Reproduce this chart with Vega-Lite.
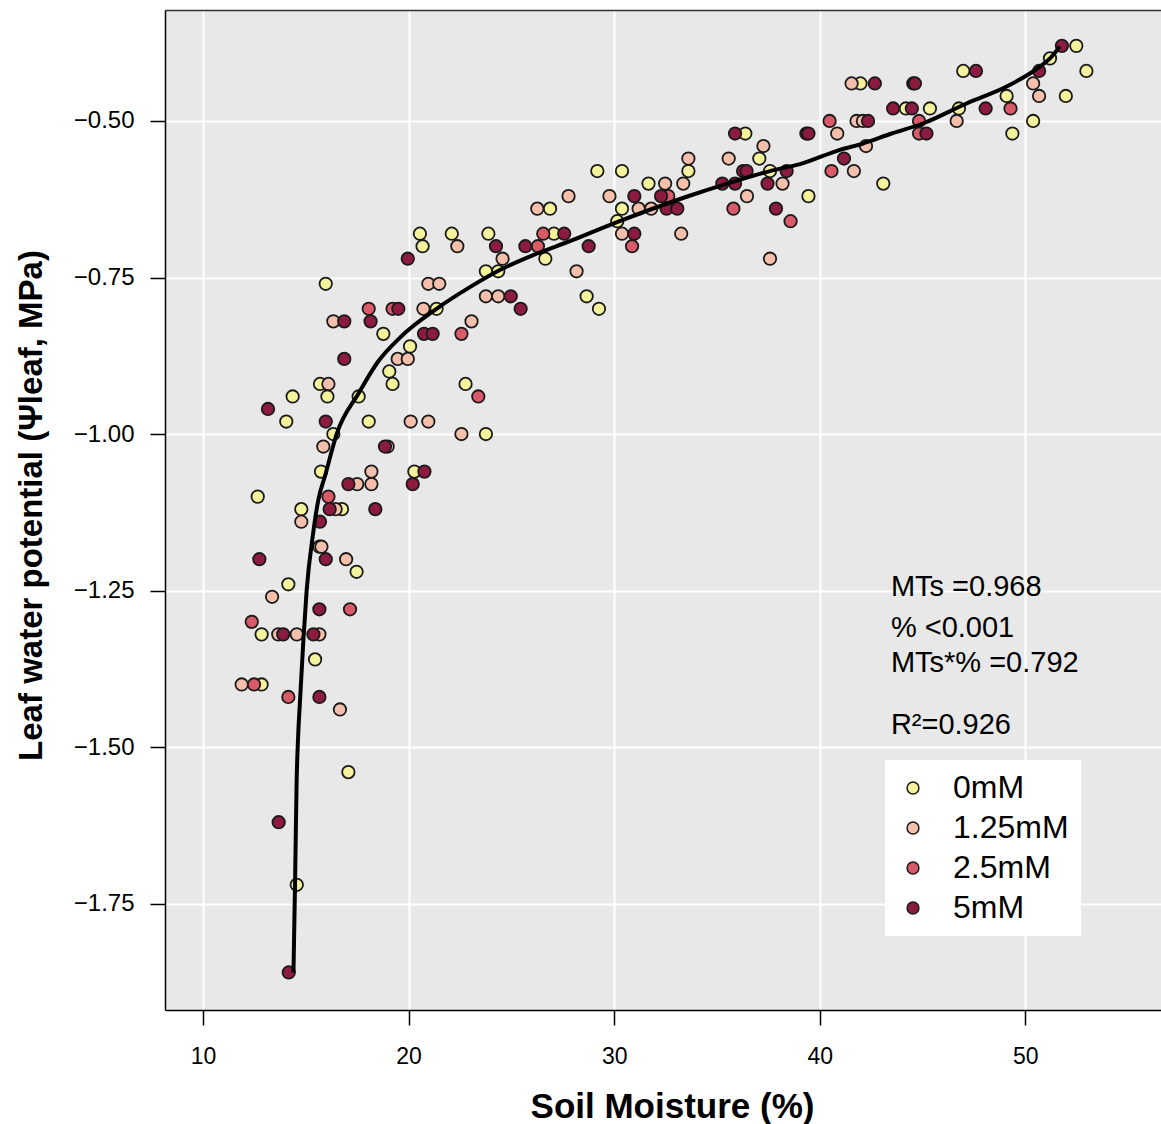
{
  "$schema": "https://vega.github.io/schema/vega-lite/v6.json",
  "width": 996,
  "height": 1000,
  "autosize": {"type": "none"},
  "padding": {"left": 165, "top": 10, "right": 0, "bottom": 114},
  "background": "white",
  "config": {
    "font": "Liberation Sans",
    "view": {"fill": "#E8E8E8", "stroke": null},
    "axis": {
      "gridColor": "white", "gridWidth": 2,
      "domainColor": "black", "domainWidth": 1.5,
      "tickColor": "black", "tickWidth": 1.5, "tickSize": 15,
      "labelColor": "black", "titleColor": "black",
      "labelFont": "Liberation Sans", "titleFont": "Liberation Sans"
    }
  },
  "resolve": {"axis": {"x": "independent"}},
  "datasets": {
    "pts": [
      {"m":52.48,"p":-0.38,"c":"0mM"},{"m":51.2,"p":-0.40,"c":"0mM"},{"m":46.98,"p":-0.42,"c":"0mM"},{"m":52.97,"p":-0.42,"c":"0mM"},{"m":41.98,"p":-0.44,"c":"0mM"},{"m":49.09,"p":-0.46,"c":"0mM"},{"m":51.97,"p":-0.46,"c":"0mM"},{"m":44.19,"p":-0.48,"c":"0mM"},{"m":45.36,"p":-0.48,"c":"0mM"},{"m":46.77,"p":-0.48,"c":"0mM"},{"m":50.38,"p":-0.50,"c":"0mM"},{"m":36.38,"p":-0.52,"c":"0mM"},{"m":49.37,"p":-0.52,"c":"0mM"},{"m":37.06,"p":-0.56,"c":"0mM"},{"m":29.18,"p":-0.58,"c":"0mM"},{"m":30.38,"p":-0.58,"c":"0mM"},{"m":33.61,"p":-0.58,"c":"0mM"},{"m":37.58,"p":-0.58,"c":"0mM"},{"m":31.67,"p":-0.60,"c":"0mM"},{"m":43.09,"p":-0.60,"c":"0mM"},{"m":39.45,"p":-0.62,"c":"0mM"},{"m":26.88,"p":-0.64,"c":"0mM"},{"m":30.38,"p":-0.64,"c":"0mM"},{"m":30.15,"p":-0.66,"c":"0mM"},{"m":20.55,"p":-0.68,"c":"0mM"},{"m":22.1,"p":-0.68,"c":"0mM"},{"m":23.88,"p":-0.68,"c":"0mM"},{"m":27.07,"p":-0.68,"c":"0mM"},{"m":20.68,"p":-0.70,"c":"0mM"},{"m":26.65,"p":-0.72,"c":"0mM"},{"m":23.76,"p":-0.74,"c":"0mM"},{"m":24.36,"p":-0.74,"c":"0mM"},{"m":15.97,"p":-0.76,"c":"0mM"},{"m":28.66,"p":-0.78,"c":"0mM"},{"m":21.36,"p":-0.80,"c":"0mM"},{"m":29.26,"p":-0.80,"c":"0mM"},{"m":18.77,"p":-0.84,"c":"0mM"},{"m":20.07,"p":-0.86,"c":"0mM"},{"m":19.06,"p":-0.90,"c":"0mM"},{"m":15.69,"p":-0.92,"c":"0mM"},{"m":19.22,"p":-0.92,"c":"0mM"},{"m":22.77,"p":-0.92,"c":"0mM"},{"m":14.36,"p":-0.94,"c":"0mM"},{"m":16.05,"p":-0.94,"c":"0mM"},{"m":17.57,"p":-0.94,"c":"0mM"},{"m":14.05,"p":-0.98,"c":"0mM"},{"m":18.06,"p":-0.98,"c":"0mM"},{"m":16.34,"p":-1.00,"c":"0mM"},{"m":23.76,"p":-1.00,"c":"0mM"},{"m":15.74,"p":-1.06,"c":"0mM"},{"m":20.28,"p":-1.06,"c":"0mM"},{"m":12.66,"p":-1.10,"c":"0mM"},{"m":14.78,"p":-1.12,"c":"0mM"},{"m":16.76,"p":-1.12,"c":"0mM"},{"m":15.66,"p":-1.18,"c":"0mM"},{"m":17.47,"p":-1.22,"c":"0mM"},{"m":14.15,"p":-1.24,"c":"0mM"},{"m":12.85,"p":-1.32,"c":"0mM"},{"m":15.45,"p":-1.36,"c":"0mM"},{"m":12.85,"p":-1.40,"c":"0mM"},{"m":17.07,"p":-1.54,"c":"0mM"},{"m":14.56,"p":-1.72,"c":"0mM"},
      {"m":41.55,"p":-0.44,"c":"1.25mM"},{"m":50.38,"p":-0.44,"c":"1.25mM"},{"m":50.67,"p":-0.46,"c":"1.25mM"},{"m":41.79,"p":-0.50,"c":"1.25mM"},{"m":42.1,"p":-0.50,"c":"1.25mM"},{"m":46.66,"p":-0.50,"c":"1.25mM"},{"m":40.85,"p":-0.52,"c":"1.25mM"},{"m":37.26,"p":-0.54,"c":"1.25mM"},{"m":42.25,"p":-0.54,"c":"1.25mM"},{"m":33.61,"p":-0.56,"c":"1.25mM"},{"m":35.57,"p":-0.56,"c":"1.25mM"},{"m":41.66,"p":-0.58,"c":"1.25mM"},{"m":32.48,"p":-0.60,"c":"1.25mM"},{"m":33.36,"p":-0.60,"c":"1.25mM"},{"m":38.19,"p":-0.60,"c":"1.25mM"},{"m":27.78,"p":-0.62,"c":"1.25mM"},{"m":29.77,"p":-0.62,"c":"1.25mM"},{"m":36.46,"p":-0.62,"c":"1.25mM"},{"m":26.26,"p":-0.64,"c":"1.25mM"},{"m":31.19,"p":-0.64,"c":"1.25mM"},{"m":31.8,"p":-0.64,"c":"1.25mM"},{"m":30.38,"p":-0.68,"c":"1.25mM"},{"m":33.26,"p":-0.68,"c":"1.25mM"},{"m":22.37,"p":-0.70,"c":"1.25mM"},{"m":24.57,"p":-0.72,"c":"1.25mM"},{"m":37.58,"p":-0.72,"c":"1.25mM"},{"m":28.17,"p":-0.74,"c":"1.25mM"},{"m":20.96,"p":-0.76,"c":"1.25mM"},{"m":21.49,"p":-0.76,"c":"1.25mM"},{"m":23.76,"p":-0.78,"c":"1.25mM"},{"m":24.36,"p":-0.78,"c":"1.25mM"},{"m":20.72,"p":-0.80,"c":"1.25mM"},{"m":16.34,"p":-0.82,"c":"1.25mM"},{"m":23.06,"p":-0.82,"c":"1.25mM"},{"m":19.47,"p":-0.88,"c":"1.25mM"},{"m":19.96,"p":-0.88,"c":"1.25mM"},{"m":16.1,"p":-0.92,"c":"1.25mM"},{"m":20.1,"p":-0.98,"c":"1.25mM"},{"m":20.96,"p":-0.98,"c":"1.25mM"},{"m":22.57,"p":-1.00,"c":"1.25mM"},{"m":15.85,"p":-1.02,"c":"1.25mM"},{"m":18.98,"p":-1.02,"c":"1.25mM"},{"m":18.19,"p":-1.06,"c":"1.25mM"},{"m":17.5,"p":-1.08,"c":"1.25mM"},{"m":18.19,"p":-1.08,"c":"1.25mM"},{"m":16.45,"p":-1.12,"c":"1.25mM"},{"m":14.78,"p":-1.14,"c":"1.25mM"},{"m":15.76,"p":-1.18,"c":"1.25mM"},{"m":16.96,"p":-1.20,"c":"1.25mM"},{"m":13.36,"p":-1.26,"c":"1.25mM"},{"m":13.66,"p":-1.32,"c":"1.25mM"},{"m":14.56,"p":-1.32,"c":"1.25mM"},{"m":15.66,"p":-1.32,"c":"1.25mM"},{"m":11.88,"p":-1.40,"c":"1.25mM"},{"m":16.66,"p":-1.44,"c":"1.25mM"},
      {"m":49.28,"p":-0.48,"c":"2.5mM"},{"m":40.48,"p":-0.50,"c":"2.5mM"},{"m":44.83,"p":-0.50,"c":"2.5mM"},{"m":44.83,"p":-0.52,"c":"2.5mM"},{"m":40.57,"p":-0.58,"c":"2.5mM"},{"m":32.63,"p":-0.62,"c":"2.5mM"},{"m":35.8,"p":-0.64,"c":"2.5mM"},{"m":38.58,"p":-0.66,"c":"2.5mM"},{"m":26.55,"p":-0.68,"c":"2.5mM"},{"m":26.29,"p":-0.70,"c":"2.5mM"},{"m":30.87,"p":-0.70,"c":"2.5mM"},{"m":18.06,"p":-0.80,"c":"2.5mM"},{"m":19.22,"p":-0.80,"c":"2.5mM"},{"m":22.57,"p":-0.84,"c":"2.5mM"},{"m":23.39,"p":-0.94,"c":"2.5mM"},{"m":16.1,"p":-1.10,"c":"2.5mM"},{"m":17.15,"p":-1.28,"c":"2.5mM"},{"m":12.37,"p":-1.30,"c":"2.5mM"},{"m":12.48,"p":-1.40,"c":"2.5mM"},{"m":14.15,"p":-1.42,"c":"2.5mM"},
      {"m":51.78,"p":-0.38,"c":"5mM"},{"m":47.6,"p":-0.42,"c":"5mM"},{"m":50.67,"p":-0.42,"c":"5mM"},{"m":42.68,"p":-0.44,"c":"5mM"},{"m":44.55,"p":-0.44,"c":"5mM"},{"m":44.63,"p":-0.44,"c":"5mM"},{"m":43.57,"p":-0.48,"c":"5mM"},{"m":44.48,"p":-0.48,"c":"5mM"},{"m":48.07,"p":-0.48,"c":"5mM"},{"m":42.35,"p":-0.50,"c":"5mM"},{"m":35.88,"p":-0.52,"c":"5mM"},{"m":39.35,"p":-0.52,"c":"5mM"},{"m":39.45,"p":-0.52,"c":"5mM"},{"m":45.19,"p":-0.52,"c":"5mM"},{"m":41.18,"p":-0.56,"c":"5mM"},{"m":36.27,"p":-0.58,"c":"5mM"},{"m":36.44,"p":-0.58,"c":"5mM"},{"m":38.39,"p":-0.58,"c":"5mM"},{"m":35.26,"p":-0.60,"c":"5mM"},{"m":35.88,"p":-0.60,"c":"5mM"},{"m":37.46,"p":-0.60,"c":"5mM"},{"m":30.98,"p":-0.62,"c":"5mM"},{"m":32.28,"p":-0.62,"c":"5mM"},{"m":32.55,"p":-0.64,"c":"5mM"},{"m":33.07,"p":-0.64,"c":"5mM"},{"m":37.87,"p":-0.64,"c":"5mM"},{"m":27.57,"p":-0.68,"c":"5mM"},{"m":30.98,"p":-0.68,"c":"5mM"},{"m":24.25,"p":-0.70,"c":"5mM"},{"m":25.68,"p":-0.70,"c":"5mM"},{"m":28.76,"p":-0.70,"c":"5mM"},{"m":19.96,"p":-0.72,"c":"5mM"},{"m":24.97,"p":-0.78,"c":"5mM"},{"m":19.5,"p":-0.80,"c":"5mM"},{"m":25.45,"p":-0.80,"c":"5mM"},{"m":16.87,"p":-0.82,"c":"5mM"},{"m":18.15,"p":-0.82,"c":"5mM"},{"m":20.75,"p":-0.84,"c":"5mM"},{"m":21.17,"p":-0.84,"c":"5mM"},{"m":16.87,"p":-0.88,"c":"5mM"},{"m":13.16,"p":-0.96,"c":"5mM"},{"m":15.97,"p":-0.98,"c":"5mM"},{"m":18.85,"p":-1.02,"c":"5mM"},{"m":20.77,"p":-1.06,"c":"5mM"},{"m":17.07,"p":-1.08,"c":"5mM"},{"m":20.2,"p":-1.08,"c":"5mM"},{"m":16.16,"p":-1.12,"c":"5mM"},{"m":18.38,"p":-1.12,"c":"5mM"},{"m":15.69,"p":-1.14,"c":"5mM"},{"m":12.74,"p":-1.20,"c":"5mM"},{"m":15.97,"p":-1.20,"c":"5mM"},{"m":15.66,"p":-1.28,"c":"5mM"},{"m":13.9,"p":-1.32,"c":"5mM"},{"m":15.37,"p":-1.32,"c":"5mM"},{"m":15.66,"p":-1.42,"c":"5mM"},{"m":13.68,"p":-1.62,"c":"5mM"},{"m":14.17,"p":-1.86,"c":"5mM"}
    ],
    "curve": [
      {"m":14.40,"p":-1.86},{"m":14.48,"p":-1.71},{"m":14.55,"p":-1.56},{"m":14.63,"p":-1.48},{"m":14.72,"p":-1.425},{"m":14.88,"p":-1.33},{"m":15.04,"p":-1.25},{"m":15.35,"p":-1.16},{"m":15.61,"p":-1.105},{"m":15.95,"p":-1.065},{"m":16.5,"p":-1.0},{"m":17.57,"p":-0.935},{"m":18.5,"p":-0.885},{"m":19.58,"p":-0.846},{"m":21.36,"p":-0.80},{"m":23.0,"p":-0.765},{"m":24.44,"p":-0.738},{"m":26.0,"p":-0.715},{"m":28.0,"p":-0.69},{"m":30.11,"p":-0.662},{"m":33.52,"p":-0.621},{"m":35.5,"p":-0.60},{"m":37.58,"p":-0.58},{"m":39.04,"p":-0.569},{"m":40.98,"p":-0.546},{"m":42.1,"p":-0.536},{"m":43.5,"p":-0.52},{"m":45.02,"p":-0.504},{"m":47.14,"p":-0.472},{"m":49.09,"p":-0.445},{"m":50.71,"p":-0.413},{"m":51.2,"p":-0.40},{"m":51.68,"p":-0.381}
    ],
    "notes": [
      {"m":43.46,"p":-1.2444,"t":"MTs =0.968"},
      {"m":43.46,"p":-1.3099,"t":"% <0.001"},
      {"m":43.46,"p":-1.3658,"t":"MTs*% =0.792"},
      {"m":43.46,"p":-1.4649,"t":"R²=0.926"}
    ]
  },
  "layer": [
    {
      "data": {"name": "pts"},
      "mark": {"type": "point", "filled": true, "shape": "circle", "size": 155, "stroke": "#1A1A1A", "strokeWidth": 1.8, "opacity": 1},
      "encoding": {
        "x": {"field": "m", "type": "quantitative",
          "scale": {"domain": [8.15, 56.6], "nice": false, "zero": false},
          "axis": {"values": [10, 20, 30, 40, 50], "labelFontSize": 23, "labelBaseline": "alphabetic", "labelPadding": 38,
            "title": "Soil Moisture (%)", "titleFontSize": 35, "titleFontWeight": "bold", "titleX": 507, "titleY": 107, "titleBaseline": "alphabetic", "titleAlign": "center"}},
        "y": {"field": "p", "type": "quantitative",
          "scale": {"domain": [-1.92, -0.3227], "nice": false, "zero": false},
          "axis": {"values": [-1.75, -1.5, -1.25, -1.0, -0.75, -0.5], "format": ".2f", "labelFontSize": 24, "labelPadding": 16,
            "title": "Leaf water potential (Ψleaf, MPa)", "titleFontSize": 33, "titleFontWeight": "bold", "titleX": -124, "titleY": 495, "titleAngle": 270, "titleBaseline": "alphabetic", "titleAlign": "center"}},
        "fill": {"field": "c", "type": "nominal",
          "scale": {"domain": ["0mM", "1.25mM", "2.5mM", "5mM"], "range": ["#F5F29C", "#F5C0AB", "#D95A69", "#8C1B3F"]},
          "legend": {"title": null, "orient": "none", "legendX": 720, "legendY": 750, "fillColor": "white", "padding": 12,
            "labelFontSize": 32, "labelFont": "Liberation Sans", "labelColor": "black", "symbolSize": 140, "symbolType": "circle",
            "symbolStrokeColor": "#1A1A1A", "symbolStrokeWidth": 1.5, "rowPadding": 8, "labelOffset": 24, "symbolOffset": 0}}
      }
    },
    {
      "data": {"name": "curve"},
      "mark": {"type": "line", "color": "black", "strokeWidth": 4, "interpolate": "monotone"},
      "encoding": {
        "x": {"field": "m", "type": "quantitative", "axis": null},
        "y": {"field": "p", "type": "quantitative"}
      }
    },
    {
      "data": {"name": "notes"},
      "mark": {"type": "text", "align": "left", "baseline": "middle", "fontSize": 29, "color": "black", "font": "Liberation Sans"},
      "encoding": {
        "x": {"field": "m", "type": "quantitative", "axis": {"orient": "top", "labels": false, "ticks": false, "grid": false, "title": null, "domainColor": "#333333", "domainWidth": 1.5}},
        "y": {"field": "p", "type": "quantitative"},
        "text": {"field": "t"}
      }
    }
  ]
}
